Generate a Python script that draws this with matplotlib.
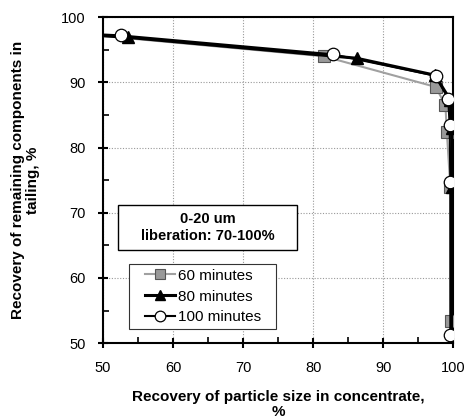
import matplotlib
matplotlib.use("Agg")
import matplotlib.pyplot as plt
from matplotlib.patches import Rectangle
from matplotlib.ticker import MultipleLocator

plt.rcParams["font.family"] = ["Liberation Sans", "DejaVu Sans"]

# 60 minutes (grey squares)
x60 = [45.0, 81.5, 97.5, 98.9, 99.1, 99.6, 99.7]
y60 = [97.6, 94.0, 89.3, 86.5, 82.4, 74.0, 53.4]

# 80 minutes (black triangles)
x80 = [45.0, 53.5, 86.2, 97.4, 99.6, 99.8, 99.9, 99.9]
y80 = [97.5, 96.9, 93.7, 91.1, 87.3, 83.0, 73.9, 50.5]

# 100 minutes (white circles)
x100 = [45.0, 52.5, 82.8, 97.5, 99.3, 99.5, 99.6, 99.6]
y100 = [97.6, 97.2, 94.3, 91.0, 87.5, 83.4, 74.7, 51.2]

fig = plt.figure(figsize=(4.73, 4.18), dpi=100)
ax = fig.add_axes([0.218, 0.179, 0.74, 0.78])

ax.plot(x60, y60, color="#a0a0a0", lw=1.5, marker="s", ms=8,
        mfc="#999999", mec="#555555", mew=0.8, label="60 minutes", zorder=3)
ax.plot(x80, y80, color="black", lw=2.2, marker="^", ms=8,
        mfc="black", mec="black", label="80 minutes", zorder=4)
ax.plot(x100, y100, color="black", lw=1.5, marker="o", ms=9,
        mfc="white", mec="black", mew=0.9, label="100 minutes", zorder=5)

ax.set_xlim(50, 100)
ax.set_ylim(50, 100)
ax.xaxis.set_major_locator(MultipleLocator(10))
ax.yaxis.set_major_locator(MultipleLocator(10))
ax.xaxis.set_minor_locator(MultipleLocator(5))
ax.yaxis.set_minor_locator(MultipleLocator(5))
ax.tick_params(which="major", direction="inout", length=7, width=1.5, labelsize=10.5)
ax.tick_params(which="minor", direction="in", length=4, width=1.2)
ax.tick_params(axis="x", which="major", pad=9)
ax.tick_params(axis="y", which="major", pad=9)
ax.grid(True, which="major", color="#999999", ls=(0, (1, 1.5)), lw=0.8)
for s in ax.spines.values():
    s.set_linewidth(1.5)

ax.set_xlabel("Recovery of particle size in concentrate,\n%", fontsize=11,
              fontweight="bold", labelpad=11, linespacing=1.15)
ax.set_ylabel("Recovery of remaining components in\ntailing, %", fontsize=11,
              fontweight="bold", labelpad=15, linespacing=1.1)

# annotation box
ax.add_patch(Rectangle((0.043, 0.285), 0.511, 0.138, transform=ax.transAxes,
                       fc="white", ec="black", lw=1, zorder=6))
ax.text(0.30, 0.354, "0-20 um\nliberation: 70-100%", transform=ax.transAxes,
        ha="center", va="center", fontsize=10.5, fontweight="bold",
        linespacing=1.25, zorder=7)

# legend with a hand-sized frame
ax.add_patch(Rectangle((0.074, 0.043), 0.42, 0.199, transform=ax.transAxes,
                       fc="white", ec="#333333", lw=0.8, zorder=6))
leg = ax.legend(loc="center", bbox_to_anchor=(0.285, 0.143), fontsize=11,
                frameon=False, handlelength=2.0, handletextpad=0.15,
                borderpad=0.0, labelspacing=0.45, markerscale=0.85)
leg.set_zorder(7)

fig.savefig("out.png", dpi=100)
